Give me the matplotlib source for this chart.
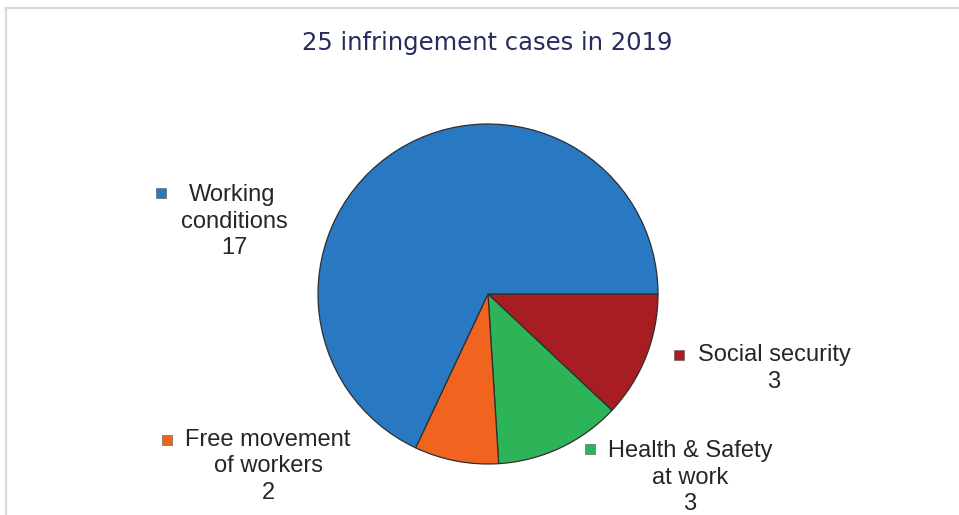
import matplotlib
matplotlib.use('Agg')
import matplotlib.pyplot as plt
from matplotlib.lines import Line2D

# data
categories = ['Social security', 'Health & Safety\nat work', 'Free movement\nof workers', 'Working\nconditions']
cases = [3, 3, 2, 17]
colors = ['#A81D22', '#2DB458', '#F0641F', '#2878C2']

W, H = 959, 515
fig = plt.figure(figsize=(W / 100, H / 100), dpi=100)
ax = fig.add_axes([0, 0, 1, 1])

# pie, clockwise from 3 o'clock
ax.pie(cases, colors=colors, startangle=0, counterclock=False,
       center=(488, H - 294), radius=170, frame=True,
       wedgeprops=dict(edgecolor='#2e2e2e', linewidth=0.9))
ax.set_xlim(0, W)
ax.set_ylim(0, H)
ax.set_aspect('equal')
ax.axis('off')

# labels: (marker x, marker y, text center x, first line y)
label_pos = [(679, 355, 774, 355),
             (590, 449, 690, 451),
             (167, 440, 268, 440),
             (161, 193, 234, 195)]
line_h = 26.5
for name, n, c, (mx, my, tx, ty) in zip(categories, cases, colors, label_pos):
    lines = name.split('\n') + [str(n)]
    ax.plot(mx, H - my, marker='s', markersize=7.5, color=c,
            markeredgecolor='#555555', markeredgewidth=0.4)
    for i, t in enumerate(lines):
        x = tx
        if i == 0 and name.startswith('Working'):
            x = 232
        ax.text(x, H - (ty + i * line_h), t, ha='center', va='center',
                fontsize=17, family='Liberation Sans', color='#262626')

ax.text(487, H - 43, '25 infringement cases in 2019', ha='center', va='center',
        fontsize=17.5, family='DejaVu Sans', color='#262C5E')

# light frame, top and left only
fig.add_artist(Line2D([6 / W, 1], [1 - 7.5 / H, 1 - 7.5 / H], transform=fig.transFigure,
                      color='#D9D9D9', linewidth=1.6))
fig.add_artist(Line2D([6 / W, 6 / W], [0, 1 - 7.5 / H], transform=fig.transFigure,
                      color='#D9D9D9', linewidth=1.6))

fig.savefig('out.png', dpi=100)
